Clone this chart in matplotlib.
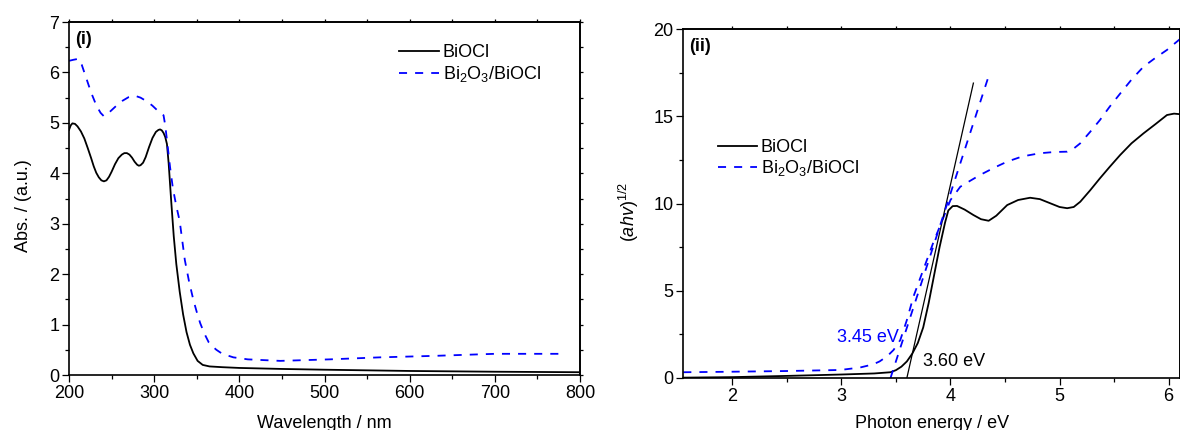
import matplotlib
matplotlib.use("Agg")
import matplotlib.pyplot as plt
import numpy as np

plt.rcParams['font.family'] = ['Liberation Sans', 'DejaVu Sans']
plt.rcParams['mathtext.fontset'] = 'custom'
plt.rcParams['mathtext.rm'] = 'Liberation Sans'
plt.rcParams['mathtext.it'] = 'Liberation Sans:italic'
plt.rcParams['mathtext.bf'] = 'Liberation Sans:bold'
plt.rcParams['lines.scale_dashes'] = False

# (i) UV-vis absorbance
wl_biocl = [200, 202, 204, 207, 210, 214, 218, 222, 226, 229, 232, 235, 238, 241, 244, 247, 250,
            254, 258, 262, 265, 268, 271, 274, 277, 280, 282, 284, 287, 290, 294, 298, 302, 305,
            307, 309, 311, 313, 315, 317, 320, 323, 326, 330, 334, 338, 342, 346, 351, 357, 365,
            380, 400, 450, 500, 560, 600, 700, 800]
abs_biocl = [4.86, 4.95, 4.99, 4.98, 4.93, 4.83, 4.69, 4.50, 4.30, 4.14, 4.01, 3.92, 3.86, 3.84,
             3.86, 3.93, 4.03, 4.18, 4.30, 4.37, 4.40, 4.40, 4.37, 4.31, 4.23, 4.17, 4.15,
             4.16, 4.21, 4.32, 4.52, 4.70, 4.82, 4.86, 4.87, 4.85, 4.80, 4.72, 4.58, 4.20,
             3.45, 2.75, 2.20, 1.65, 1.20, 0.85, 0.60, 0.43, 0.28, 0.20, 0.17, 0.155, 0.14,
             0.12, 0.105, 0.09, 0.08, 0.065, 0.055]

wl_comp = [200, 205, 211, 215, 220, 226, 232, 237, 241, 248, 255, 263, 270, 277, 284, 292, 298,
           303, 308, 311, 313, 315, 318.6, 322, 326, 330, 336, 341, 346, 350, 354, 359, 364, 369,
           373, 380, 393, 410, 448, 506, 565, 630, 700, 783]
abs_comp = [6.23, 6.25, 6.27, 6.15, 5.90, 5.60, 5.35, 5.20, 5.13, 5.22, 5.33, 5.44, 5.51, 5.54,
            5.50, 5.42, 5.34, 5.26, 5.20, 5.15, 4.95, 4.66, 4.13, 3.70, 3.35, 3.05, 2.28, 1.85,
            1.49, 1.25, 1.03, 0.82, 0.65, 0.56, 0.50, 0.42, 0.35, 0.31, 0.28, 0.31, 0.35, 0.38,
            0.42, 0.42]

# (ii) Tauc plot
e_biocl = [1.55, 2.0, 2.5, 3.0, 3.3, 3.45, 3.5, 3.55, 3.6, 3.65, 3.7, 3.75, 3.8, 3.85, 3.9,
           3.95, 3.98, 4.02, 4.06, 4.13, 4.21, 4.28, 4.35, 4.42, 4.52, 4.62, 4.73, 4.82, 4.92,
           5.0, 5.07, 5.13, 5.19, 5.28, 5.37, 5.46, 5.556, 5.66, 5.77, 5.88, 5.985, 6.05, 6.1]
tauc_biocl = [0.02, 0.05, 0.12, 0.20, 0.26, 0.33, 0.45, 0.65, 0.95, 1.40, 2.00, 2.90, 4.30,
              5.90, 7.50, 8.90, 9.60, 9.85, 9.86, 9.65, 9.34, 9.10, 9.01, 9.30, 9.91, 10.2,
              10.33, 10.25, 10.0, 9.8, 9.73, 9.8, 10.1, 10.75, 11.44, 12.1, 12.78, 13.45,
              14.02, 14.55, 15.07, 15.15, 15.12]

e_comp = [1.55, 2.0, 2.5, 2.99, 3.17, 3.29, 3.35, 3.42, 3.477, 3.54, 3.6, 3.66, 3.75, 3.84,
          3.92, 4.0, 4.09, 4.18, 4.27, 4.4, 4.52, 4.66, 4.82, 4.95, 5.07, 5.13, 5.19, 5.28,
          5.37, 5.46, 5.556, 5.66, 5.77, 5.88, 5.985, 6.1]
tauc_comp = [0.33, 0.36, 0.40, 0.46, 0.60, 0.78, 0.95, 1.25, 1.6, 2.18, 3.32, 4.66, 6.19, 7.72,
             8.96, 10.2, 10.96, 11.3, 11.63, 12.05, 12.4, 12.7, 12.88, 12.95, 12.97, 13.15,
             13.45, 14.1, 14.78, 15.55, 16.3, 17.1, 17.84, 18.35, 18.8, 19.4]

# band gaps (x-intercepts) and upper ends of the tangent lines
gap = {'BiOCl': 3.60, 'comp': 3.45}
tangent_end = {'BiOCl': (4.21, 16.9), 'comp': (4.35, 17.3)}

BLUE = '#0000ff'
DASH = (0, (5.8, 5.8))
FS = 13

fig = plt.figure(figsize=(11.8, 4.3), dpi=100)
ax1 = fig.add_axes([69 / 1180, 1 - 375 / 430, 511 / 1180, 353 / 430])
ax2 = fig.add_axes([683.3 / 1180, 1 - 378 / 430, 496.2 / 1180, 349 / 430])

ax1.plot(wl_biocl, abs_biocl, color='black', lw=1.3, label='BiOCl')
ax1.plot(wl_comp, abs_comp, color=BLUE, lw=1.3, ls=DASH, label='Bi$_2$O$_3$/BiOCl')
ax1.set_xlim(200, 800)
ax1.set_ylim(0, 7)
ax1.set_xticks(np.arange(200, 801, 100))
ax1.set_xticks(np.arange(200, 801, 50), minor=True)
ax1.set_yticks(np.arange(0, 8, 1))
ax1.set_yticks(np.arange(0, 7.01, 0.5), minor=True)
ax1.set_xlabel('Wavelength / nm', fontsize=FS)
ax1.set_ylabel('Abs. / (a.u.)', fontsize=FS)
ax1.yaxis.set_label_coords(-0.072, 0.48)
ax1.xaxis.set_label_coords(0.5, -0.112)
ax1.text(0.012, 0.95, '(i)', transform=ax1.transAxes, fontsize=FS, fontweight='bold',
         va='center', ha='left')
ax1.legend(loc='upper left', bbox_to_anchor=(0.618, 0.978), frameon=False, fontsize=FS,
           handlelength=2.2, handletextpad=0.2, labelspacing=0.15, borderpad=0.3)

ax2.plot(e_biocl, tauc_biocl, color='black', lw=1.3, label='BiOCl')
ax2.plot(e_comp, tauc_comp, color=BLUE, lw=1.3, ls=DASH, label='Bi$_2$O$_3$/BiOCl')
ax2.plot([gap['BiOCl'], tangent_end['BiOCl'][0]], [0, tangent_end['BiOCl'][1]],
         color='black', lw=0.9)
ax2.plot([gap['comp'], tangent_end['comp'][0]], [0, tangent_end['comp'][1]],
         color=BLUE, lw=1.3, ls=DASH)
ax2.text(gap['BiOCl'] + 0.15, 0.95, '%.2f eV' % gap['BiOCl'], fontsize=FS, color='black',
         va='center', ha='left')
ax2.text(gap['comp'] + 0.08, 2.3, '%.2f eV' % gap['comp'], fontsize=FS, color=BLUE,
         va='center', ha='right')
ax2.set_xlim(1.55, 6.1)
ax2.set_ylim(0, 20)
ax2.set_xticks(np.arange(2, 7, 1))
ax2.set_xticks(np.arange(2, 6.01, 0.5), minor=True)
ax2.set_yticks(np.arange(0, 21, 5))
ax2.set_yticks(np.arange(0, 20.01, 2.5), minor=True)
ax2.set_xlabel('Photon energy / eV', fontsize=FS)
ax2.set_ylabel(r'($ahv$)$^{1/2}$', fontsize=FS)
ax2.yaxis.set_label_coords(-0.085, 0.476)
ax2.xaxis.set_label_coords(0.502, -0.105)
ax2.text(0.012, 0.95, '(ii)', transform=ax2.transAxes, fontsize=FS, fontweight='bold',
         va='center', ha='left')
ax2.legend(loc='upper left', bbox_to_anchor=(0.04, 0.725), frameon=False, fontsize=FS,
           handlelength=2.2, handletextpad=0.2, labelspacing=0.1, borderpad=0.3)

for ax, xminor, yminor in ((ax1, np.arange(200, 801, 50), np.arange(0, 7.01, 0.5)),
                           (ax2, np.arange(1.5, 6.11, 0.5), np.arange(0, 20.01, 2.5))):
    for s in ax.spines.values():
        s.set_linewidth(1.2)
    ax.tick_params(which='major', direction='out', length=5, width=0.9, labelsize=FS, pad=2)
    ax.tick_params(which='minor', direction='out', length=3, width=0.9)
    top = ax.secondary_xaxis('top')
    top.set_xticks(xminor)
    top.tick_params(direction='out', length=2, width=0.9, labeltop=False)
    right = ax.secondary_yaxis('right')
    right.set_yticks(yminor)
    right.tick_params(direction='out', length=2, width=0.9, labelright=False)
    for sec in (top, right):
        for s in sec.spines.values():
            s.set_linewidth(1.2)

fig.savefig('out.png', dpi=100)
